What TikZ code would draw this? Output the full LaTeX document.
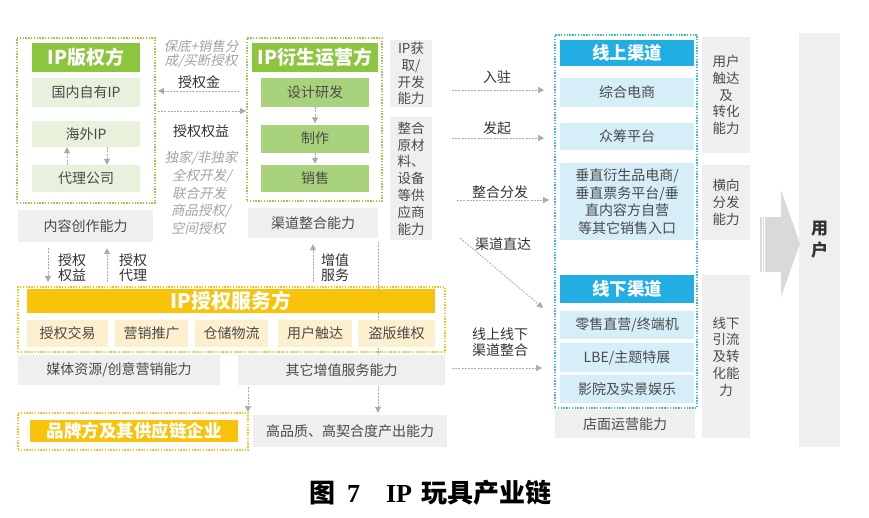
\documentclass[tikz,border=0pt]{standalone}
\usepackage{fontspec}
\setmainfont{Noto Sans CJK SC}
\newfontfamily\cjkit[FakeSlant=0.22]{Noto Sans CJK SC}
\newfontfamily\serifb{Liberation Serif}
\usetikzlibrary{arrows.meta,calc}
\definecolor{ipgreen}{HTML}{8CC63F}
\definecolor{lgreenc}{HTML}{E7F1DB}
\definecolor{mgreenc}{HTML}{A8D37C}
\definecolor{dgreen}{HTML}{A2C54A}
\definecolor{grayc}{HTML}{EFEFEF}
\definecolor{bheadc}{HTML}{22AEE3}
\definecolor{lbluec}{HTML}{D5EEF8}
\definecolor{dblue}{HTML}{3DBAD8}
\definecolor{yheadc}{HTML}{F9C30C}
\definecolor{lyellowc}{HTML}{FCF0CF}
\definecolor{dyellow}{HTML}{F4C620}
\definecolor{txt}{HTML}{4A4A4A}
\definecolor{lbl}{HTML}{333333}
\definecolor{ital}{HTML}{A3A3A3}
\definecolor{conngray}{HTML}{ABABAB}
\definecolor{arrowgray}{HTML}{D9D9D9}
\tikzset{
  base/.style={rectangle, inner sep=0pt, text=txt, align=center, font=\fontsize{14}{17}\selectfont},
  dotbox/.style={rectangle, inner sep=0pt, line width=1.8pt, dash pattern=on 1.4pt off 1.4pt},
  dotgreen/.style={dotbox, draw=dgreen},
  dotblue/.style={dotbox, draw=dblue},
  dotyellow/.style={dotbox, draw=dyellow},
  ghead/.style={base, fill=ipgreen, text=white, font=\fontsize{19}{19}\selectfont\bfseries},
  lgreen/.style={base, fill=lgreenc},
  mgreen/.style={base, fill=mgreenc},
  gbox/.style={base, fill=grayc},
  sidefont/.style={font=\fontsize{13.5}{16.8}\selectfont},
  bhead/.style={base, fill=bheadc, text=white, font=\fontsize{17.5}{17.5}\selectfont\bfseries},
  lblue/.style={base, fill=lbluec},
  yhead/.style={base, fill=yheadc, text=white, font=\fontsize{20}{20}\selectfont\bfseries},
  yhead2/.style={base, fill=yheadc, text=white, font=\fontsize{17.5}{17.5}\selectfont\bfseries},
  lyellow/.style={base, fill=lyellowc},
  lab/.style={inner sep=0pt, text=lbl, align=center, font=\fontsize{14}{15.5}\selectfont},
  itl/.style={inner sep=0pt, text=ital, font=\fontsize{13.5}{15}\cjkit},
  conn/.style={draw=conngray, line width=0.8pt, dash pattern=on 2pt off 1.2pt,
    -{Triangle[length=6pt,width=6pt,fill=conngray]}},
}
\newcommand\bx[6]{\node[#1, minimum width=#4pt, minimum height=#5pt] (#2) at (#3) {#6};}
\begin{document}
\begin{tikzpicture}[x=1pt,y=-1pt]
\useasboundingbox[fill=white] (0,0) rectangle (869,517);

% long line behind yellow box
\bx{gbox}{Bc}{313,223}{130}{30}{渠道整合能力}
\bx{gbox}{Q}{350,431}{194}{32}{高品质、高契合度产出能力}
\draw[conn, shorten <=4pt, shorten >=2pt] ([xshift=65pt]Bc.south) -- ([xshift=65pt]Bc.south |- Q.north);

% IP rights holder
\bx{dotgreen}{A}{86,120.5}{138}{165}{}
\bx{ghead}{Ah}{86,57.5}{108}{29}{IP版权方}
\bx{lgreen}{A1}{86,92.5}{108}{29}{国内自有IP}
\bx{lgreen}{A2}{86,134}{108}{26}{海外IP}
\bx{lgreen}{A3}{86,178.5}{108}{27}{代理公司}
\bx{gbox}{Ac}{85.5,226}{135}{32}{内容创作能力}
\draw[conn] ([xshift=-19pt]A3.north) -- ([xshift=-19pt]A2.south);
\draw[conn] ([xshift=21pt]A2.south) -- ([xshift=21pt]A3.north);

% IP derivative operator
\bx{dotgreen}{B}{314.5,119.5}{135}{163}{}
\bx{ghead}{Bh}{315,57.5}{126}{29}{IP衍生运营方}
\bx{mgreen}{B1}{315,92.5}{108}{29}{设计研发}
\bx{mgreen}{B2}{315,138.5}{108}{28}{制作}
\bx{mgreen}{B3}{315,178.5}{108}{27}{销售}
\draw[conn, shorten >=1pt] (B1) -- (B2);
\draw[conn, shorten >=1pt] (B2) -- (B3);

% middle labels and arrows
\node[itl] (i1) at (201,46) {保底+销售分};
\node[itl] (i2) at (201,61) {成/买断授权};
\node[lab] (l1) at (199,82) {授权金};
\draw[conn, shorten <=7pt, shorten >=2pt] (B.west |- 0,91) -- (A.east |- 0,91);
\draw[conn, shorten <=2pt] (A.east |- 0,111) -- (B.west |- 0,111);
\node[lab] (l2) at (201,131) {授权权益};
\node[itl] (i3) at (201,158) {独家/非独家};
\node[itl, anchor=west] (i4) at (172,176) {全权开发/};
\node[itl, anchor=west] (i5) at (172,193) {联合开发};
\node[itl, anchor=west] (i6) at (171,211) {商品授权/};
\node[itl, anchor=west] (i7) at (171,228) {空间授权};

% side capability boxes
\bx{gbox,sidefont}{S1}{411,73.5}{42}{67}{IP获\\取/\\开发\\能力}
\bx{gbox,sidefont}{S2}{411,178.5}{42}{123}{整合\\原材\\料、\\设备\\等供\\应商\\能力}

% channels
\bx{dotblue}{C}{626,221.5}{142}{373}{}
\bx{bhead}{Ch}{627,53}{134}{26}{线上渠道}
\bx{lblue}{C1}{627,92.5}{134}{29}{综合电商}
\bx{lblue}{C2}{627,136.5}{134}{27}{众筹平台}
\bx{lblue,font=\fontsize{14}{17.5}\selectfont}{C3}{627,201.5}{134}{77}{垂直衍生品电商/\\垂直票务平台/垂\\直内容方自营\\等其它销售入口}
\bx{bhead}{Dh}{627,289}{134}{28}{线下渠道}
\bx{lblue}{D1}{627,325}{134}{28}{零售直营/终端机}
\bx{lblue}{D2}{627,357.5}{134}{29}{LBE/主题特展}
\bx{lblue}{D3}{627,389}{134}{28}{影院及实景娱乐}
\bx{gbox}{Dc}{625,424}{140}{28}{店面运营能力}

% arrows to channels
\coordinate (r1) at (452,90);
\coordinate (r2) at (452,138);
\coordinate (r3) at (457,200);
\coordinate (r4) at (452,368);
\coordinate (d1) at (460,238);
\coordinate (d2) at (543,308);
\node[lab] (t1) at (497,77) {入驻};
\node[lab] (t2) at (497,128) {发起};
\node[lab] (t3) at (500,192) {整合分发};
\node[lab] (t4) at (503,244) {渠道直达};
\node[lab] (t5) at (500,342) {线上线下\\渠道整合};
\draw[conn, shorten >=10pt] (r1) -- (C.west |- r1);
\draw[conn, shorten >=10pt] (r2) -- (C.west |- r2);
\draw[conn, shorten >=5pt] (r3) -- (C.west |- r3);
\draw[conn, shorten >=12pt] (r4) -- (C.west |- r4);
\draw[conn] (d1) -- (d2);

% right column
\bx{gbox,sidefont}{R1}{726,95}{48}{116}{用户\\触达\\及\\转化\\能力}
\bx{gbox,sidefont}{R2}{726,202.5}{48}{75}{横向\\分发\\能力}
\bx{gbox,sidefont}{R3}{726,356.5}{48}{163}{线下\\引流\\及转\\化能\\力}
\bx{gbox,font=\fontsize{17}{22}\selectfont\bfseries,text=lbl}{U}{819.5,240}{41}{414}{用\\户}
\fill[arrowgray] (760,217) -- (781,217) -- (781,190) -- (800,243.5) -- (781,297) -- (781,272) -- (760,272) -- cycle;
\draw[white, line width=0.6pt] (762,217) -- (762,272);
\draw[white, line width=0.6pt] (764.5,217) -- (764.5,272);

% IP licensing service
\bx{dotyellow}{Y}{231.5,319.5}{427}{65}{}
\bx{yhead}{Yh}{231,301}{408}{24}{IP授权服务方}
\bx{lyellow}{Y1}{67.5,333.5}{81}{27}{授权交易}
\bx{lyellow}{Y2}{151.5,333.5}{73}{27}{营销推广}
\bx{lyellow}{Y3}{231.5,333.5}{73}{27}{仓储物流}
\bx{lyellow}{Y4}{315,333.5}{74}{27}{用户触达}
\bx{lyellow}{Y5}{396.5,333.5}{77}{27}{盗版维权}
\bx{gbox}{M1}{119,370}{202}{30}{媒体资源/创意营销能力}
\bx{gbox}{M2}{341.5,370}{207}{30}{其它增值服务能力}

\draw[conn, shorten <=6pt, shorten >=4pt] ([xshift=-37.5pt]Ac.south) -- ([xshift=-37.5pt]Ac.south |- Y.north);
\draw[conn, shorten <=4pt, shorten >=6pt] ([xshift=21.5pt]Ac.south |- Y.north) -- ([xshift=21.5pt]Ac.south);
\draw[conn, shorten <=4pt, shorten >=6pt] (Bc.south |- Y.north) -- (Bc.south);
\node[lab] (v1) at (72,267.5) {授权\\权益};
\node[lab] (v2) at (133,267.5) {授权\\代理};
\node[lab] (v3) at (335,267.5) {增值\\服务};

% brand owners
\bx{dotyellow}{P}{133,431.5}{230}{37}{}
\bx{yhead2}{Ph}{134,431}{208}{22}{品牌方及其供应链企业}
\draw[conn, shorten <=2pt] ([xshift=-93.5pt]M2.south) -- ([xshift=-93.5pt]M2.south |- P.north);

% caption
\node[inner sep=0pt, text=black, font=\fontsize{26}{26}\selectfont\bfseries] (cap) at (430,493)
  {图\hspace{12pt}{\serifb\bfseries 7}\hspace{26pt}{\serifb\bfseries IP}\hspace{9pt}玩具产业链};
\end{tikzpicture}
\end{document}
